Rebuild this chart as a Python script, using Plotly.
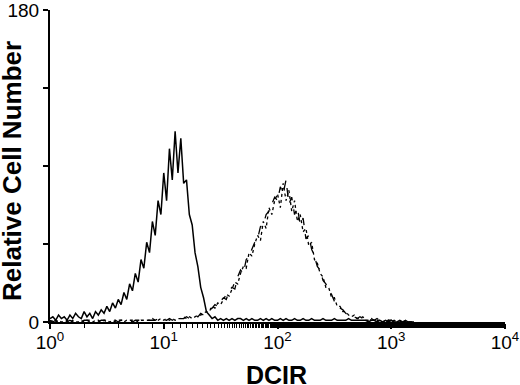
import numpy as np
import plotly.graph_objects as go

# Channel grid: log10(DCIR) from 0 to 3.2 in steps of 0.025
channel_log = np.round(np.arange(0, 3.2001, 0.025), 3)

# Solid histogram (control)
solid_counts = [
    2, 3, 1, 4, 2, 3, 1, 4, 2, 5,
    3, 2, 6, 3, 5, 2, 6, 4, 7, 5,
    9, 6, 11, 8, 13, 10, 17, 13, 22, 18,
    28, 23, 36, 31, 46, 40, 58, 50, 70, 62,
    86, 70, 100, 82, 110, 86, 106, 80, 82, 62,
    56, 40, 32, 20, 14, 6, 4, 2, 3, 1,
    2, 1, 2, 1, 2, 1, 2, 2, 1, 2,
    1, 2, 1, 1, 2, 1, 2, 1, 2, 1,
    1, 2, 1, 2, 1, 1, 2, 1, 1, 2,
    1, 1, 2, 1, 1, 1, 2, 1, 1, 1,
    2, 1, 1, 1, 1, 2, 1, 1, 1, 1,
    1, 1, 0, 1, 1, 0, 1, 0, 1, 0,
    1, 0, 0, 1, 0, 0, 0, 0, 0,
]

# Dashed histogram 1 (DCIR stain)
dash_counts = [
    1, 0, 1, 0, 1, 1, 0, 1, 0, 1,
    1, 0, 1, 1, 0, 1, 1, 0, 1, 1,
    0, 1, 1, 1, 0, 1, 1, 1, 1, 0,
    1, 1, 1, 1, 1, 1, 1, 1, 2, 1,
    1, 1, 2, 1, 2, 1, 2, 2, 3, 2,
    3, 4, 3, 5, 4, 6, 7, 8, 10, 9,
    12, 14, 13, 18, 20, 19, 26, 30, 28, 36,
    38, 42, 46, 48, 55, 56, 62, 64, 68, 72,
    70, 78, 74, 82, 68, 72, 62, 66, 56, 60,
    48, 50, 42, 38, 32, 30, 24, 22, 18, 16,
    12, 11, 8, 7, 5, 4, 4, 3, 2, 3,
    2, 1, 2, 1, 1, 2, 1, 1, 0, 1,
    1, 0, 1, 0, 0, 1, 0, 0, 0,
]

# Dashed histogram 2 (DCIR stain, replicate)
dot_counts = [
    0, 1, 0, 1, 0, 0, 1, 0, 1, 0,
    0, 1, 0, 1, 1, 0, 1, 1, 0, 1,
    1, 0, 1, 0, 1, 1, 0, 1, 1, 1,
    1, 0, 1, 1, 1, 1, 2, 1, 1, 2,
    1, 2, 1, 2, 1, 2, 2, 3, 2, 3,
    2, 3, 4, 4, 5, 6, 6, 9, 8, 11,
    10, 13, 16, 15, 19, 23, 22, 28, 32, 31,
    40, 38, 45, 50, 47, 58, 54, 66, 62, 70,
    74, 66, 80, 70, 76, 64, 70, 58, 62, 52,
    54, 44, 46, 36, 34, 28, 26, 20, 20, 14,
    14, 9, 9, 6, 6, 4, 3, 4, 2, 2,
    3, 1, 1, 2, 1, 1, 1, 0, 1, 1,
    0, 1, 0, 0, 1, 0, 0, 0, 0,
]

x_tick_vals = [1, 10, 100, 1000, 10000]
x_tick_text = ["10<sup>0</sup>", "10<sup>1</sup>", "10<sup>2</sup>", "10<sup>3</sup>", "10<sup>4</sup>"]
y_tick_vals = [0, 45, 90, 135, 180]
y_tick_text = ["0", "", "", "", "180"]
x_title = "DCIR"
y_title = "Relative Cell Number"

x = 10 ** channel_log

fig = go.Figure()
fig.add_trace(go.Scatter(x=x, y=dash_counts, mode="lines",
                         line=dict(color="black", width=1.3, dash="dash"), showlegend=False))
fig.add_trace(go.Scatter(x=x, y=dot_counts, mode="lines",
                         line=dict(color="black", width=1.3, dash="dot"), showlegend=False))
fig.add_trace(go.Scatter(x=x, y=solid_counts, mode="lines",
                         line=dict(color="black", width=1.5), showlegend=False))

font_family = "Liberation Sans, Arial, sans-serif"
fig.update_layout(
    width=520, height=385,
    margin=dict(l=50, r=15, t=10, b=63),
    paper_bgcolor="white", plot_bgcolor="white",
    font=dict(family=font_family, color="black"),
    xaxis=dict(
        type="log", range=[0, 4], automargin=False,
        tickvals=x_tick_vals, ticktext=x_tick_text,
        ticks="outside", ticklen=5, tickwidth=1.5, tickcolor="black",
        minor=dict(ticks="outside", ticklen=4, tickwidth=1, tickcolor="black", showgrid=False),
        showline=True, linecolor="black", linewidth=2,
        showgrid=False, zeroline=False,
        ticklabeloverflow="allow", ticklabelstandoff=-3,
        tickfont=dict(size=19, family=font_family),
    ),
    yaxis=dict(
        range=[0, 180], automargin=False,
        tickvals=y_tick_vals, ticktext=y_tick_text,
        ticks="outside", ticklen=5, tickwidth=1.5, tickcolor="black",
        showline=True, linecolor="black", linewidth=2,
        showgrid=False, zeroline=False,
        ticklabeloverflow="allow",
        tickfont=dict(size=19, family=font_family),
    ),
    annotations=[
        dict(text=f"<b>{x_title}</b>", xref="paper", yref="paper",
             x=(276 - 50) / 455, y=(322 - 359) / 312, xanchor="center", yanchor="top",
             showarrow=False, font=dict(size=25, family=font_family, color="black")),
        dict(text=f"<b>{y_title}</b>", xref="paper", yref="paper",
             x=(12 - 50) / 455, y=(322 - 171) / 312, xanchor="center", yanchor="middle",
             textangle=-90, showarrow=False,
             font=dict(size=26, family=font_family, color="black")),
    ],
)

fig.write_html("out.html", config={"displayModeBar": False},
               post_script="document.body.style.margin='0px';")
